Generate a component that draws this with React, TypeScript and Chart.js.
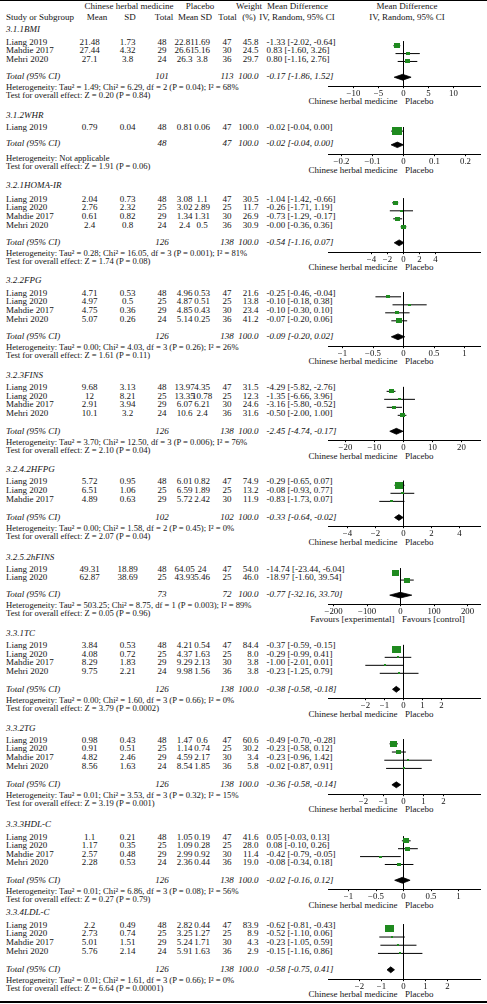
import React, { useEffect, useRef } from 'react';
import { Chart, registerables } from 'chart.js';

Chart.register(...registerables);

// ---------------- data ----------------
const groupTitles = ['3.1.1BMI', '3.1.2WHR', '3.2.1HOMA-IR', '3.2.2FPG', '3.2.3FINS', '3.2.4.2HFPG', '3.2.5.2hFINS', '3.3.1TC', '3.3.2TG', '3.3.3HDL-C', '3.3.4LDL-C'];

const S4 = ['Liang 2019', 'Liang 2020', 'Mahdie 2017', 'Mehri 2020'];
const studyNames: string[][] = [
  ['Liang 2019', 'Mahdie 2017', 'Mehri 2020'],
  ['Liang 2019'],
  S4, S4, S4,
  ['Liang 2019', 'Liang 2020', 'Mahdie 2017'],
  ['Liang 2019', 'Liang 2020'],
  S4, S4, S4, S4,
];

const chmMean = [[21.48, 27.44, 27.1], [0.79], [2.04, 2.76, 0.61, 2.4], [4.71, 4.97, 4.75, 5.07], [9.68, 12, 2.91, 10.1], [5.72, 6.51, 4.89], [49.31, 62.87], [3.84, 4.08, 8.29, 9.75], [0.98, 0.91, 4.82, 8.56], [1.1, 1.17, 2.57, 2.28], [2.2, 2.73, 5.01, 5.76]];
const chmSD = [[1.73, 4.32, 3.8], [0.04], [0.73, 2.32, 0.82, 0.8], [0.53, 0.5, 0.36, 0.26], [3.13, 8.21, 3.94, 3.2], [0.95, 1.06, 0.63], [18.89, 38.69], [0.53, 0.72, 1.83, 2.21], [0.43, 0.51, 2.46, 1.63], [0.21, 0.35, 0.48, 0.53], [0.49, 0.74, 1.51, 2.14]];
const chmN = [[48, 29, 24], [48], [48, 25, 29, 24], [48, 25, 29, 24], [48, 25, 29, 24], [48, 25, 29], [48, 25], [48, 25, 29, 24], [48, 25, 29, 24], [48, 25, 29, 24], [48, 25, 29, 24]];
const plcMean = [[22.81, 26.61, 26.3], [0.81], [3.08, 3.02, 1.34, 2.4], [4.96, 4.87, 4.85, 5.14], [13.97, 13.35, 6.07, 10.6], [6.01, 6.59, 5.72], [64.05, 43.93], [4.21, 4.37, 9.29, 9.98], [1.47, 1.14, 4.59, 8.54], [1.05, 1.09, 2.99, 2.36], [2.82, 3.25, 5.24, 5.91]];
const plcSD = [[1.69, 5.16, 3.8], [0.06], [1.1, 2.89, 1.31, 0.5], [0.53, 0.51, 0.43, 0.25], [4.35, 10.78, 6.21, 2.4], [0.82, 1.89, 2.42], [24, 5.46], [0.54, 1.63, 2.13, 1.56], [0.6, 0.74, 2.17, 1.85], [0.19, 0.28, 0.92, 0.44], [0.44, 1.27, 1.71, 1.63]];
const plcN = [[47, 30, 36], [47], [47, 25, 30, 36], [47, 25, 30, 36], [47, 25, 30, 36], [47, 25, 30], [47, 25], [47, 25, 30, 36], [47, 25, 30, 36], [47, 25, 30, 36], [47, 25, 30, 36]];
const weights = [[45.8, 24.5, 29.7], [100.0], [30.5, 11.7, 26.9, 30.9], [21.6, 13.8, 23.4, 41.2], [31.5, 12.3, 24.6, 31.6], [74.9, 13.2, 11.9], [54.0, 46.0], [84.4, 8.0, 3.8, 3.8], [60.6, 30.2, 3.4, 5.8], [41.6, 28.0, 11.4, 19.0], [83.9, 8.9, 4.3, 2.9]];

const mdLabel = [
  ['-1.33 [-2.02, -0.64]', '0.83 [-1.60, 3.26]', '0.80 [-1.16, 2.76]'],
  ['-0.02 [-0.04, 0.00]'],
  ['-1.04 [-1.42, -0.66]', '-0.26 [-1.71, 1.19]', '-0.73 [-1.29, -0.17]', '-0.00 [-0.36, 0.36]'],
  ['-0.25 [-0.46, -0.04]', '-0.10 [-0.18, 0.38]', '-0.10 [-0.30, 0.10]', '-0.07 [-0.20, 0.06]'],
  ['-4.29 [-5.82, -2.76]', '-1.35 [-6.66, 3.96]', '-3.16 [-5.80, -0.52]', '-0.50 [-2.00, 1.00]'],
  ['-0.29 [-0.65, 0.07]', '-0.08 [-0.93, 0.77]', '-0.83 [-1.73, 0.07]'],
  ['-14.74 [-23.44, -6.04]', '-18.97 [-1.60, 39.54]'],
  ['-0.37 [-0.59, -0.15]', '-0.29 [-0.99, 0.41]', '-1.00 [-2.01, 0.01]', '-0.23 [-1.25, 0.79]'],
  ['-0.49 [-0.70, -0.28]', '-0.23 [-0.58, 0.12]', '-0.23 [-0.96, 1.42]', '-0.02 [-0.87, 0.91]'],
  ['0.05 [-0.03, 0.13]', '0.08 [-0.10, 0.26]', '-0.42 [-0.79, -0.05]', '-0.08 [-0.34, 0.18]'],
  ['-0.62 [-0.81, -0.43]', '-0.52 [-1.10, 0.06]', '-0.23 [-1.05, 0.59]', '-0.15 [-1.16, 0.86]'],
];
// plotted marker positions (as drawn in the figure)
const mdPoint = [[-1.33, 0.83, 0.80], [-0.02], [-1.04, -0.26, -0.73, -0.00], [-0.25, 0.10, -0.10, -0.07], [-4.29, -1.35, -3.16, -0.50], [-0.29, -0.08, -0.83], [-14.74, 18.97], [-0.37, -0.29, -1.00, -0.23], [-0.49, -0.23, 0.23, 0.02], [0.05, 0.08, -0.42, -0.08], [-0.62, -0.52, -0.23, -0.15]];
const ciLo = [[-2.02, -1.60, -1.16], [-0.04], [-1.42, -1.71, -1.29, -0.36], [-0.46, -0.18, -0.30, -0.20], [-5.82, -6.66, -5.80, -2.00], [-0.65, -0.93, -1.73], [-23.44, -1.60], [-0.59, -0.99, -2.01, -1.25], [-0.70, -0.58, -0.96, -0.87], [-0.03, -0.10, -0.79, -0.34], [-0.81, -1.10, -1.05, -1.16]];
const ciHi = [[-0.64, 3.26, 2.76], [0.00], [-0.66, 1.19, -0.17, 0.36], [-0.04, 0.38, 0.10, 0.06], [-2.76, 3.96, -0.52, 1.00], [0.07, 0.77, 0.07], [-6.04, 39.54], [-0.15, 0.41, 0.01, 0.79], [-0.28, 0.12, 1.42, 0.91], [0.13, 0.26, -0.05, 0.18], [-0.43, 0.06, 0.59, 0.86]];

const chmTotal = [101, 48, 126, 126, 126, 102, 73, 126, 126, 126, 126];
const plcTotal = [113, 47, 138, 138, 138, 102, 72, 138, 138, 138, 138];
const totalLabel = ['-0.17 [-1.86, 1.52]', '-0.02 [-0.04, 0.00]', '-0.54 [-1.16, 0.07]', '-0.09 [-0.20, 0.02]', '-2.45 [-4.74, -0.17]', '-0.33 [-0.64, -0.02]', '-0.77 [-32.16, 33.70]', '-0.38 [-0.58, -0.18]', '-0.36 [-0.58, -0.14]', '-0.02 [-0.16, 0.12]', '-0.58 [-0.75, 0.41]'];
const totalMd = [-0.17, -0.02, -0.54, -0.09, -2.45, -0.33, -0.77, -0.38, -0.36, -0.02, -0.58];
const totalLo = [-1.86, -0.04, -1.16, -0.20, -4.74, -0.64, -32.16, -0.58, -0.58, -0.16, -0.75];
const totalHi = [1.52, 0.00, 0.07, 0.02, -0.17, -0.02, 33.70, -0.18, -0.14, 0.12, -0.41];

const hetText = [
  'Heterogeneity: Tau\u00b2 = 1.49; Chi\u00b2 = 6.29, df = 2 (P = 0.04); I\u00b2 = 68%',
  'Heterogeneity: Not applicable',
  'Heterogeneity: Tau\u00b2 = 0.28; Chi\u00b2 = 16.05, df = 3 (P = 0.001); I\u00b2 = 81%',
  'Heterogeneity: Tau\u00b2 = 0.00; Chi\u00b2 = 4.03, df = 3 (P = 0.26); I\u00b2 = 26%',
  'Heterogeneity: Tau\u00b2 = 3.70; Chi\u00b2 = 12.50, df = 3 (P = 0.006); I\u00b2 = 76%',
  'Heterogeneity: Tau\u00b2 = 0.00; Chi\u00b2 = 1.58, df = 2 (P = 0.45); I\u00b2 = 0%',
  'Heterogeneity: Tau\u00b2 = 503.25; Chi\u00b2 = 8.75, df = 1 (P = 0.003); I\u00b2 = 89%',
  'Heterogeneity: Tau\u00b2 = 0.00; Chi\u00b2 = 1.60, df = 3 (P = 0.66); I\u00b2 = 0%',
  'Heterogeneity: Tau\u00b2 = 0.01; Chi\u00b2 = 3.53, df = 3 (P = 0.32); I\u00b2 = 15%',
  'Heterogeneity: Tau\u00b2 = 0.01; Chi\u00b2 = 6.86, df = 3 (P = 0.08); I\u00b2 = 56%',
  'Heterogeneity: Tau\u00b2 = 0.01; Chi\u00b2 = 1.61, df = 3 (P = 0.66); I\u00b2 = 0%',
];
const testText = [
  'Test for overall effect: Z = 0.20 (P = 0.84)',
  'Test for overall effect: Z = 1.91 (P = 0.06)',
  'Test for overall effect: Z = 1.74 (P = 0.08)',
  'Test for overall effect: Z = 1.61 (P = 0.11)',
  'Test for overall effect: Z = 2.10 (P = 0.04)',
  'Test for overall effect: Z = 2.07 (P = 0.04)',
  'Test for overall effect: Z = 0.05 (P = 0.96)',
  'Test for overall effect: Z = 3.79 (P = 0.0002)',
  'Test for overall effect: Z = 3.19 (P = 0.001)',
  'Test for overall effect: Z = 0.27 (P = 0.79)',
  'Test for overall effect: Z = 6.64 (P = 0.00001)',
];

const tickValues = [[-10, -5, 0, 5, 10], [-0.2, -0.1, 0, 0.1, 0.2], [-4, -2, 0, 2, 4], [-1, -0.5, 0, 0.5, 1], [-20, -10, 0, 10, 20], [-4, -2, 0, 2, 4], [-200, -100, 0, 100, 200], [-2, -1, 0, 1, 2], [-2, -1, 0, 1, 2], [-1, -0.5, 0, 0.5, 1], [-2, -1, 0, 1, 2]];
const captionLeft = ['Chinese herbal medicine', 'Chinese herbal medicine', 'Chinese herbal medicine', 'Chinese herbal medicine', 'Chinese herbal medicine', 'Chinese herbal medicine', 'Favours [experimental]', 'Chinese herbal medicine', 'Chinese herbal medicine', 'Chinese herbal medicine', 'Chinese herbal medicine'];
const captionRight = ['Placebo', 'Placebo', 'Placebo', 'Placebo', 'Placebo', 'Placebo', 'Favours [control]', 'Placebo', 'Placebo', 'Placebo', 'Placebo'];

// ---------------- layout / style ----------------
const FONT = '"Liberation Serif", "Times New Roman", Times, serif';
const FS = 9.0;
const FS_SMALL = 8.6;
const INK = '#141414';
const GREEN = '#1f8a1f';
const PLOT_LEFT = 328;
const PLOT_RIGHT = 480;
const CANVAS_LEFT = 296;
const CANVAS_W = 191;
const TICK_FS = 8.8;
const AXIS_H = 2 + 2 + TICK_FS;

type GL = { title: number; first: number; sp: number; pxPerUnit: number; zero: number; totalGap?: number; axisGap?: number; hetGap?: number; testGap?: number };
const groupLayout: GL[] = [
  { title: 29, first: 41.5, sp: 8.7, pxPerUnit: 5, zero: 403.5 },
  { title: 115, first: 127.3, sp: 8.7, pxPerUnit: 310, zero: 403.5, totalGap: 16, axisGap: 11, hetGap: 14.7, testGap: 22.2 },
  { title: 185, first: 198.5, sp: 8.7, pxPerUnit: 8, zero: 403.5 },
  { title: 280, first: 292.5, sp: 8.7, pxPerUnit: 61, zero: 403.5 },
  { title: 374.5, first: 387, sp: 8.7, pxPerUnit: 2.9, zero: 403.5 },
  { title: 468.5, first: 481, sp: 8.9, pxPerUnit: 14, zero: 403.5 },
  { title: 556.5, first: 568.5, sp: 8.5, pxPerUnit: 0.335, zero: 400.5 },
  { title: 632.5, first: 645, sp: 8.7, pxPerUnit: 19, zero: 403.5 },
  { title: 728, first: 739.5, sp: 8.9, pxPerUnit: 20, zero: 403.5 },
  { title: 824, first: 836.5, sp: 8.6, pxPerUnit: 55, zero: 403.5 },
  { title: 912, first: 924.5, sp: 8.9, pxPerUnit: 22, zero: 403.5 },
];

function geom(g: number) {
  const L = groupLayout[g];
  const n = studyNames[g].length;
  const totalY = L.first + (L.totalGap ?? (n + 1) * L.sp);
  const axisRaw = totalY + (L.axisGap ?? 9.5);
  const hetY = totalY + (L.hetGap ?? 11);
  const testY = totalY + (L.testGap ?? 19);
  const captionY = axisRaw + 15.5;
  const canvasTop = Math.floor(L.first - 8);
  const axisPx = Math.round(axisRaw);
  const canvasH = Math.round(axisPx - canvasTop + AXIS_H);
  return { ...L, n, totalY, axisY: axisPx, hetY, testY, captionY, canvasTop, canvasH };
}

function makeSquare(wt: number) {
  const s = 10 * Math.pow(wt / 100, 0.6);
  const w = Math.max(2, Math.round(s));
  const h = Math.max(2, Math.round(s * 0.8));
  const c = document.createElement('canvas');
  c.width = w;
  c.height = h;
  const ctx = c.getContext('2d');
  if (ctx) {
    ctx.fillStyle = GREEN;
    ctx.fillRect(0, 0, w, h);
  }
  return c;
}

function fmtTick(v: number | string) {
  const n = Number(v);
  return n < 0 ? '\u2212' + String(Math.abs(n)) : String(n);
}

function ForestChart({ g }: { g: number }) {
  const ref = useRef<HTMLCanvasElement>(null);
  const G = geom(g);
  useEffect(() => {
    if (!ref.current) return;
    const sp = G.sp;
    const areaBottom = G.canvasTop + G.canvasH - AXIS_H;
    const yMin = (G.canvasTop - G.first) / sp;
    const yMax = (areaBottom - G.first) / sp;
    const xMin = (PLOT_LEFT - G.zero) / G.pxPerUnit;
    const xMax = (PLOT_RIGHT - G.zero) / G.pxPerUnit;
    const dRow = (G.totalY - G.first) / sp;
    const hh = 3.2 / sp;
    const datasets: any[] = [];
    datasets.push({
      data: mdPoint[g].map((v, i) => ({ x: v, y: i })),
      pointStyle: weights[g].map((w) => makeSquare(w)),
      pointRadius: 3,
      showLine: false,
    });
    datasets.push({
      data: [
        { x: totalLo[g], y: dRow },
        { x: totalMd[g], y: dRow - hh },
        { x: totalHi[g], y: dRow },
        { x: totalMd[g], y: dRow + hh },
        { x: totalLo[g], y: dRow },
      ],
      showLine: true,
      fill: 'shape',
      backgroundColor: '#000',
      borderColor: '#000',
      borderWidth: 0.8,
      pointRadius: 0,
      tension: 0,
    });
    ciLo[g].forEach((lo, i) => {
      datasets.push({
        data: [{ x: lo, y: i }, { x: ciHi[g][i], y: i }],
        showLine: true,
        borderColor: '#000',
        borderWidth: 1,
        pointRadius: 0,
      });
    });
    datasets.push({
      data: [{ x: 0, y: -0.55 }, { x: 0, y: yMax }],
      showLine: true,
      borderColor: '#000',
      borderWidth: 1,
      pointRadius: 0,
    });
    const chart = new Chart(ref.current, {
      type: 'scatter',
      data: { datasets },
      options: {
        animation: false,
        responsive: false,
        devicePixelRatio: 1,
        events: [],
        layout: { padding: { left: PLOT_LEFT - CANVAS_LEFT, right: CANVAS_LEFT + CANVAS_W - PLOT_RIGHT, top: 0, bottom: 0 } },
        plugins: { legend: { display: false }, tooltip: { enabled: false } },
        scales: {
          x: {
            type: 'linear',
            min: xMin,
            max: xMax,
            afterBuildTicks: (s: any) => {
              s.ticks = tickValues[g].map((v) => ({ value: v }));
            },
            ticks: {
              callback: (v: any) => fmtTick(v),
              font: { family: FONT, size: TICK_FS, lineHeight: 1 },
              color: INK,
              padding: 1,
              maxRotation: 0,
              minRotation: 0,
              autoSkip: false,
            },
            grid: { drawOnChartArea: false, drawTicks: true, tickLength: 2, color: '#000', lineWidth: 1 },
            border: { display: true, color: '#000', width: 1 },
          },
          y: { type: 'linear', display: false, reverse: true, min: yMin, max: yMax },
        },
      } as any,
    });
    return () => chart.destroy();
  }, [g]);
  return (
    <canvas
      ref={ref}
      width={CANVAS_W}
      height={G.canvasH}
      style={{ position: 'absolute', left: CANVAS_LEFT, top: G.canvasTop, width: CANVAS_W, height: G.canvasH }}
    />
  );
}

function T({ x, y, a = 'left', it = false, size = FS, children }: { x: number; y: number; a?: 'left' | 'center' | 'right'; it?: boolean; size?: number; children: React.ReactNode }) {
  const tx = a === 'left' ? '0' : a === 'center' ? '-50%' : '-100%';
  return (
    <div
      style={{
        position: 'absolute',
        left: x,
        top: y - 6,
        height: 12,
        lineHeight: '12px',
        fontSize: size,
        fontStyle: it ? 'italic' : 'normal',
        transform: `translateX(${tx})`,
        whiteSpace: 'nowrap',
        color: INK,
      }}
    >
      {children}
    </div>
  );
}

const COL = { name: 6, chmMean: 89.5, chmSD: 127.5, chmN: 162, plcMean: 184.5, plcSD: 202, plcN: 227, weightR: 258.5, md: 266.5 };

export default function App() {
  return (
    <div style={{ position: 'absolute', left: 0, top: 0, width: 487, height: 1004, overflow: 'hidden', background: '#fff', fontFamily: FONT }}>
      <div style={{ position: 'absolute', left: 0, top: 0, width: 487, height: 1, background: '#000' }} />
      <T x={129} y={6} a="center">Chinese herbal medicine</T>
      <T x={200} y={6} a="center">Placebo</T>
      <T x={249} y={6} a="center">Weight</T>
      <T x={297.5} y={6} a="center">Mean Difference</T>
      <T x={407} y={6} a="center">Mean Difference</T>
      <T x={6} y={16.7}>Study or Subgroup</T>
      <T x={97} y={16.7} a="center">Mean</T>
      <T x={130} y={16.7} a="center">SD</T>
      <T x={164} y={16.7} a="center">Total</T>
      <T x={195} y={16.7} a="center">Mean SD</T>
      <T x={227.5} y={16.7} a="center">Total</T>
      <T x={249} y={16.7} a="center">(%)</T>
      <T x={297} y={16.7} a="center">IV, Random, 95% CI</T>
      <T x={407} y={16.7} a="center">IV, Random, 95% CI</T>
      {groupTitles.map((title, g) => {
        const G = geom(g);
        return (
          <React.Fragment key={g}>
            <T x={COL.name} y={G.title} it>{title}</T>
            {studyNames[g].map((nm, i) => {
              const y = G.first + i * G.sp;
              return (
                <React.Fragment key={i}>
                  <T x={COL.name} y={y}>{nm}</T>
                  <T x={COL.chmMean} y={y} a="center">{String(chmMean[g][i])}</T>
                  <T x={COL.chmSD} y={y} a="center">{String(chmSD[g][i])}</T>
                  <T x={COL.chmN} y={y} a="center">{String(chmN[g][i])}</T>
                  <T x={COL.plcMean} y={y} a="center">{String(plcMean[g][i])}</T>
                  <T x={COL.plcSD} y={y} a="center">{String(plcSD[g][i])}</T>
                  <T x={COL.plcN} y={y} a="center">{String(plcN[g][i])}</T>
                  <T x={COL.weightR} y={y} a="right">{weights[g][i].toFixed(1)}</T>
                  <T x={COL.md} y={y}>{mdLabel[g][i]}</T>
                </React.Fragment>
              );
            })}
            <T x={COL.name} y={G.totalY} it>Total (95% CI)</T>
            <T x={COL.chmN} y={G.totalY} a="center" it>{String(chmTotal[g])}</T>
            <T x={COL.plcN} y={G.totalY} a="center" it>{String(plcTotal[g])}</T>
            <T x={COL.weightR} y={G.totalY} a="right" it>100.0</T>
            <T x={COL.md} y={G.totalY} it>{totalLabel[g]}</T>
            <T x={COL.name} y={G.hetY} size={FS_SMALL}>{hetText[g]}</T>
            <T x={COL.name} y={G.testY} size={FS_SMALL}>{testText[g]}</T>
            <T x={G.zero - 6} y={G.captionY} a="right">{captionLeft[g]}</T>
            <T x={G.zero + 1.5} y={G.captionY}>{captionRight[g]}</T>
            <ForestChart g={g} />
          </React.Fragment>
        );
      })}
      <div style={{ position: 'absolute', left: 0, top: 1001, width: 487, height: 2, background: '#000' }} />
    </div>
  );
}
